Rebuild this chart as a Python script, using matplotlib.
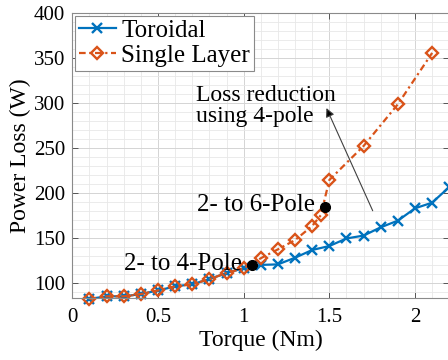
import numpy as np
import matplotlib
matplotlib.use("Agg")
import matplotlib.pyplot as plt
from matplotlib.ticker import MultipleLocator, FuncFormatter

# data
torque_tor = [0.1, 0.2, 0.3, 0.4, 0.5, 0.6, 0.7, 0.8, 0.9, 1.0, 1.1,
              1.2, 1.3, 1.4, 1.5, 1.6, 1.7, 1.8, 1.9, 2.0, 2.1, 2.2]
loss_tor = [82.6, 85.5, 85.5, 88, 92, 96.5, 99, 104.5, 111.5, 116.6, 120.4,
            121, 128.4, 137, 141.4, 149.8, 153, 162.2, 169.6, 183.3, 189.6, 207]

torque_sl = [0.1, 0.2, 0.3, 0.4, 0.5, 0.6, 0.7, 0.8, 0.9, 1.0, 1.1,
             1.2, 1.3, 1.4, 1.45, 1.5, 1.7, 1.9, 2.1]
loss_sl = [82.6, 85.5, 85.5, 88, 92, 96.5, 99, 104.5, 111.5, 116.6, 127.8,
           137.7, 148, 163.7, 175.6, 214.8, 252.6, 299, 356]

switch_x = [1.05, 1.475]
switch_y = [120.4, 185]
switch_labels = ["2- to 4-Pole", "2- to 6-Pole"]

blue = "#0072BD"
orange = "#D95319"

plt.rcParams['font.family'] = ['Liberation Serif', 'DejaVu Serif']

fig = plt.figure(figsize=(4.48, 3.6), dpi=100)
ax = fig.add_axes([72.3 / 448, (360 - 298.3) / 360, 377 / 448, 285 / 360])

ax.plot(torque_tor, loss_tor, '-', color=blue, lw=1.6, marker='x', ms=6.5,
        mew=1.7, label='Toroidal', clip_on=False)
ax.plot(torque_sl, loss_sl, color=orange, lw=1.6, ls=(0, (3, 1.6, 1, 1.6)),
        marker='D', ms=5.8, mew=1.7, mfc='none', label='Single Layer',
        clip_on=False)
ax.plot(switch_x, switch_y, 'o', color='black', ms=7, zorder=5)

ax.text(switch_x[0] - 0.06, switch_y[0] + 1.5, switch_labels[0], fontsize=18,
        ha='right', va='center')
ax.text(switch_x[1] - 0.06, switch_y[1] + 2, switch_labels[1], fontsize=18,
        ha='right', va='center')

ax.annotate("", xy=(1.483, 294.7), xytext=(1.753, 180.6),
            arrowprops=dict(arrowstyle='-|>', color='#404040', lw=0.8,
                            mutation_scale=13, shrinkA=0, shrinkB=0,
                            fc='black'))
ax.text(0.72, 297, "Loss reduction\nusing 4-pole", fontsize=17, ha='left',
        va='center', linespacing=0.95)

ax.set_xlim(0, 2.2)
ax.set_ylim(83.3, 400)
ax.xaxis.set_major_locator(MultipleLocator(0.5))
ax.xaxis.set_minor_locator(MultipleLocator(0.1))
ax.yaxis.set_major_locator(MultipleLocator(50))
ax.yaxis.set_minor_locator(MultipleLocator(10))
ax.xaxis.set_major_formatter(FuncFormatter(lambda v, p: "%g" % v))

ax.grid(True, which='major', color='#d4d4d4', lw=0.7)
ax.grid(True, which='minor', color='#e8e8e8', lw=0.6)
ax.set_axisbelow(True)

ax.tick_params(which='both', direction='in', top=True, right=True,
               labelsize=15, color='#555555')
ax.tick_params(which='major', length=4, width=0.7)
ax.tick_params(which='minor', length=0)
ax.tick_params(axis='x', pad=7)
ax.tick_params(axis='y', pad=5)
for s in ax.spines.values():
    s.set_color('#8a8a8a')
    s.set_linewidth(0.8)

ax.set_xlabel("Torque (Nm)", fontsize=17, labelpad=2)
ax.set_ylabel("Power Loss (W)", fontsize=17, labelpad=2)

leg = ax.legend(loc='upper left', fontsize=18, fancybox=False,
                edgecolor='#8a8a8a', framealpha=1, borderaxespad=0.1,
                borderpad=0.15, handlelength=1.5, handletextpad=0.2,
                labelspacing=0.1)
leg.get_frame().set_linewidth(0.8)
leg.set_zorder(10)

fig.savefig("out.png", dpi=100)
